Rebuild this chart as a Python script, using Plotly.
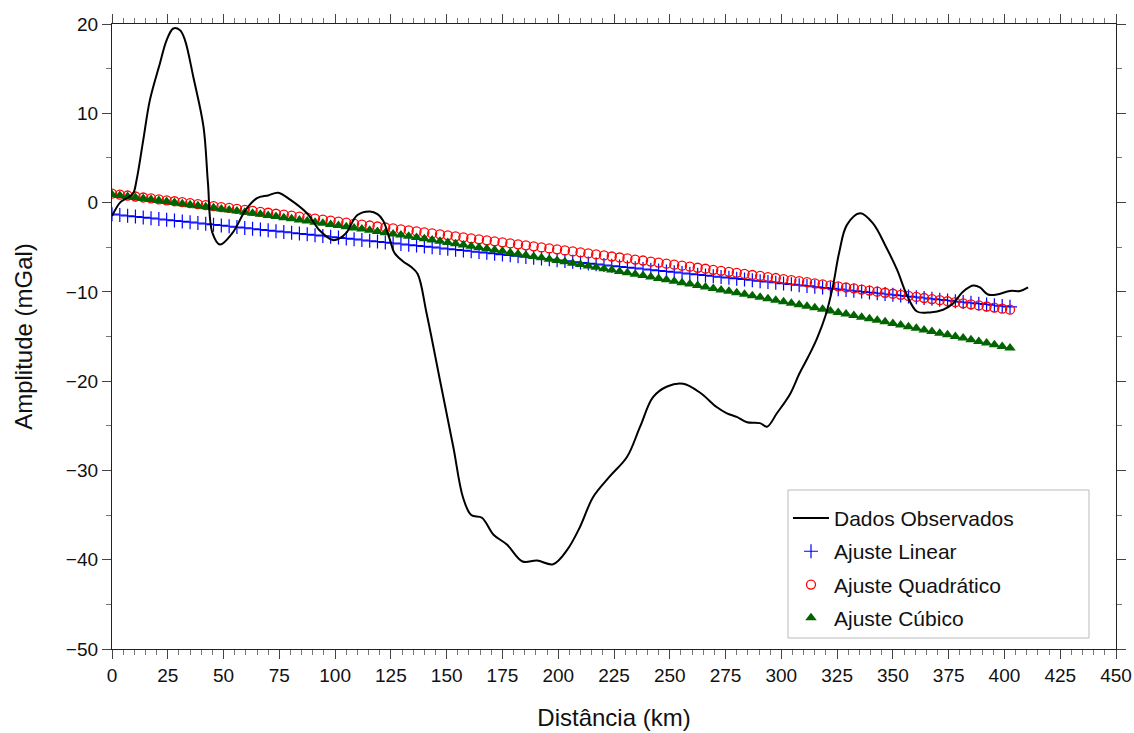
import plotly.graph_objects as go

# ---------------- data ----------------
obs_dist = [0, 3.6, 6, 9.4, 11, 14, 17, 21.5, 24.5, 27.5, 30.5, 32.7, 36.5, 41, 43, 45, 48.4,
            54, 60, 65, 70, 74.5, 80, 87.4, 93, 99, 102, 105, 110, 115.6, 119, 121.5,
            124.6, 126.5, 130.5, 134, 137, 141, 147, 153, 157.3, 161, 165.8, 171, 177,
            184, 190.5, 197.7, 204, 209.8, 215.6, 223, 230.8, 236.7, 242.5, 248.8, 256,
            263.6, 271, 275.6, 280, 284.6, 290.4, 293.6, 298, 304, 308, 312, 316,
            320, 323, 326, 329.4, 335.3, 341, 347, 352, 356, 360.8, 366.6, 372.5, 377,
            381.4, 386, 389, 392.6, 396.6, 402.5, 407, 410.6]
obs_amp = [-1.5, 0.0, 0.4, 1.0, 2.5, 7.0, 11.5, 15.6, 18.2, 19.5, 19.3, 18.2, 14.0, 8.5, 2.2,
           -3.4, -4.7, -3.4, -0.8, 0.5, 0.8, 1.1, 0.3, -1.2, -3.1, -4.2, -4.0, -3.4, -1.4,
           -1.0, -1.3, -2.0, -4.2, -5.6, -6.6, -7.2, -8.0, -12.4, -19.9, -27.4, -33.0,
           -35.0, -35.3, -37.2, -38.3, -40.2, -40.1, -40.5, -38.9, -36.3, -33.0, -30.7,
           -28.5, -25.1, -21.8, -20.6, -20.3, -21.3, -22.9, -23.6, -24.0, -24.6, -24.7,
           -25.1, -23.6, -21.4, -19.2, -17.3, -15.2, -12.5, -9.5, -5.5, -2.5, -1.2, -2.3,
           -5.0, -7.6, -10.2, -12.2, -12.3, -12.0, -11.3, -10.0, -9.3, -9.5, -10.3, -10.3,
           -9.9, -9.9, -9.5]

fit_step = 3.5
fit_dist = [round(i * fit_step, 1) for i in range(116)]

fit_linear = [
    -1.30, -1.39, -1.48, -1.57, -1.66, -1.75, -1.84, -1.93, -2.02, -2.11,
    -2.20, -2.29, -2.38, -2.47, -2.56, -2.65, -2.74, -2.84, -2.93, -3.02,
    -3.11, -3.20, -3.29, -3.38, -3.47, -3.56, -3.65, -3.74, -3.83, -3.92,
    -4.01, -4.10, -4.19, -4.28, -4.37, -4.46, -4.55, -4.64, -4.73, -4.82,
    -4.91, -5.00, -5.09, -5.18, -5.27, -5.36, -5.45, -5.54, -5.63, -5.72,
    -5.82, -5.91, -6.00, -6.09, -6.18, -6.27, -6.36, -6.45, -6.54, -6.63,
    -6.72, -6.81, -6.90, -6.99, -7.08, -7.17, -7.26, -7.35, -7.44, -7.53,
    -7.62, -7.71, -7.80, -7.89, -7.98, -8.07, -8.16, -8.25, -8.34, -8.43,
    -8.52, -8.61, -8.70, -8.80, -8.89, -8.98, -9.07, -9.16, -9.25, -9.34,
    -9.43, -9.52, -9.61, -9.70, -9.79, -9.88, -9.97, -10.06, -10.15, -10.24,
    -10.33, -10.42, -10.51, -10.60, -10.69, -10.78, -10.87, -10.96, -11.05, -11.14,
    -11.23, -11.32, -11.41, -11.50, -11.59, -11.68]

fit_quadratic = [
    1.00, 0.89, 0.79, 0.68, 0.57, 0.47, 0.36, 0.25, 0.15, 0.04,
    -0.07, -0.17, -0.28, -0.39, -0.50, -0.60, -0.71, -0.82, -0.93, -1.04,
    -1.14, -1.25, -1.36, -1.47, -1.58, -1.69, -1.80, -1.91, -2.02, -2.13,
    -2.24, -2.35, -2.46, -2.57, -2.68, -2.79, -2.90, -3.01, -3.12, -3.23,
    -3.34, -3.45, -3.56, -3.67, -3.78, -3.89, -4.01, -4.12, -4.23, -4.34,
    -4.45, -4.57, -4.68, -4.79, -4.90, -5.02, -5.13, -5.24, -5.36, -5.47,
    -5.58, -5.70, -5.81, -5.92, -6.04, -6.15, -6.26, -6.38, -6.49, -6.61,
    -6.72, -6.84, -6.95, -7.07, -7.18, -7.30, -7.41, -7.53, -7.64, -7.76,
    -7.87, -7.99, -8.11, -8.22, -8.34, -8.45, -8.57, -8.69, -8.80, -8.92,
    -9.04, -9.16, -9.27, -9.39, -9.51, -9.62, -9.74, -9.86, -9.98, -10.10,
    -10.21, -10.33, -10.45, -10.57, -10.69, -10.81, -10.93, -11.05, -11.16, -11.28,
    -11.40, -11.52, -11.64, -11.76, -11.88, -12.00]

fit_cubic = [
    0.90, 0.79, 0.68, 0.57, 0.45, 0.34, 0.23, 0.11, 0.00, -0.12,
    -0.24, -0.35, -0.47, -0.59, -0.71, -0.83, -0.95, -1.07, -1.19, -1.32,
    -1.44, -1.56, -1.69, -1.81, -1.94, -2.07, -2.19, -2.32, -2.45, -2.58,
    -2.71, -2.84, -2.97, -3.11, -3.24, -3.37, -3.51, -3.64, -3.78, -3.92,
    -4.05, -4.19, -4.33, -4.47, -4.61, -4.75, -4.89, -5.03, -5.18, -5.32,
    -5.46, -5.61, -5.75, -5.90, -6.05, -6.19, -6.34, -6.49, -6.64, -6.79,
    -6.94, -7.09, -7.25, -7.40, -7.55, -7.71, -7.86, -8.02, -8.17, -8.33,
    -8.49, -8.65, -8.81, -8.97, -9.13, -9.29, -9.45, -9.61, -9.78, -9.94,
    -10.10, -10.27, -10.44, -10.60, -10.77, -10.94, -11.11, -11.28, -11.45, -11.62,
    -11.79, -11.96, -12.13, -12.31, -12.48, -12.66, -12.83, -13.01, -13.18, -13.36,
    -13.54, -13.72, -13.90, -14.08, -14.26, -14.44, -14.63, -14.81, -14.99, -15.18,
    -15.36, -15.55, -15.73, -15.92, -16.11, -16.30]

names = ["Dados Observados", "Ajuste Linear", "Ajuste Quadrático", "Ajuste Cúbico"]

FONT = "Liberation Sans, Arial, Helvetica, sans-serif"

fig = go.Figure()

fig.add_trace(go.Scatter(
    x=fit_dist, y=fit_linear, mode="markers", name=names[1], legendrank=2,
    legendgroup="b",
    marker=dict(symbol="cross-thin", size=10, color="#0000ff",
                line=dict(color="#0000ff", width=1.2))))
fig.add_trace(go.Scatter(
    x=fit_dist, y=fit_quadratic, mode="markers", name=names[2], legendrank=3,
    legendgroup="c",
    marker=dict(symbol="circle-open", size=9, color="#ff0000",
                line=dict(color="#ff0000", width=1.3))))
fig.add_trace(go.Scatter(
    x=fit_dist, y=fit_cubic, mode="markers", name=names[3], legendrank=4,
    legendgroup="d",
    marker=dict(symbol="triangle-up", size=10, color="#006400",
                line=dict(width=0))))
fig.add_trace(go.Scatter(
    x=obs_dist, y=obs_amp, mode="lines", name=names[0], legendrank=1,
    legendgroup="a",
    line=dict(color="#000000", width=2, shape="spline", smoothing=1.0)))

axis_common = dict(
    showline=True, linecolor="#222222", linewidth=1.3, mirror="ticks",
    ticks="outside", ticklen=9, tickwidth=1, tickcolor="#444444",
    showgrid=False, zeroline=False, automargin=False,
    tickfont=dict(family=FONT, size=19, color="#111111"),
)

fig.update_xaxes(
    range=[0, 450], dtick=25, tick0=0,
    minor=dict(dtick=5, ticks="outside", ticklen=5, tickcolor="#777777", showgrid=False),
    title=dict(text="Distância (km)", font=dict(family=FONT, size=24, color="#111111"),
               standoff=24),
    **axis_common)
fig.update_yaxes(
    range=[-50, 20], dtick=10, tick0=0,
    minor=dict(dtick=5, ticks="outside", ticklen=5, tickcolor="#777777", showgrid=False),
    title=dict(text="Amplitude (mGal)", font=dict(family=FONT, size=24, color="#111111"),
               standoff=26),
    **axis_common)

# legend frame (wider than the auto-sized legend box, as in the original)
fig.add_shape(type="rect", xref="paper", yref="paper",
              x0=0.6733, x1=0.9731, y0=0.0176, y1=0.2544,
              line=dict(color="#bbbbbb", width=1), fillcolor="white", layer="above")

fig.update_layout(
    width=1134, height=733,
    margin=dict(l=112, r=18, t=24, b=84),
    paper_bgcolor="white", plot_bgcolor="white",
    font=dict(family=FONT, color="#111111"),
    showlegend=True,
    legend=dict(
        x=0.6733, y=0.2544, xanchor="left", yanchor="top",
        bgcolor="rgba(0,0,0,0)", borderwidth=0,
        font=dict(family=FONT, size=21, color="#111111"),
        tracegroupgap=3, itemwidth=36,
        title=dict(text=" ", font=dict(size=6)),
    ),
)

fig.write_html("out.html")
